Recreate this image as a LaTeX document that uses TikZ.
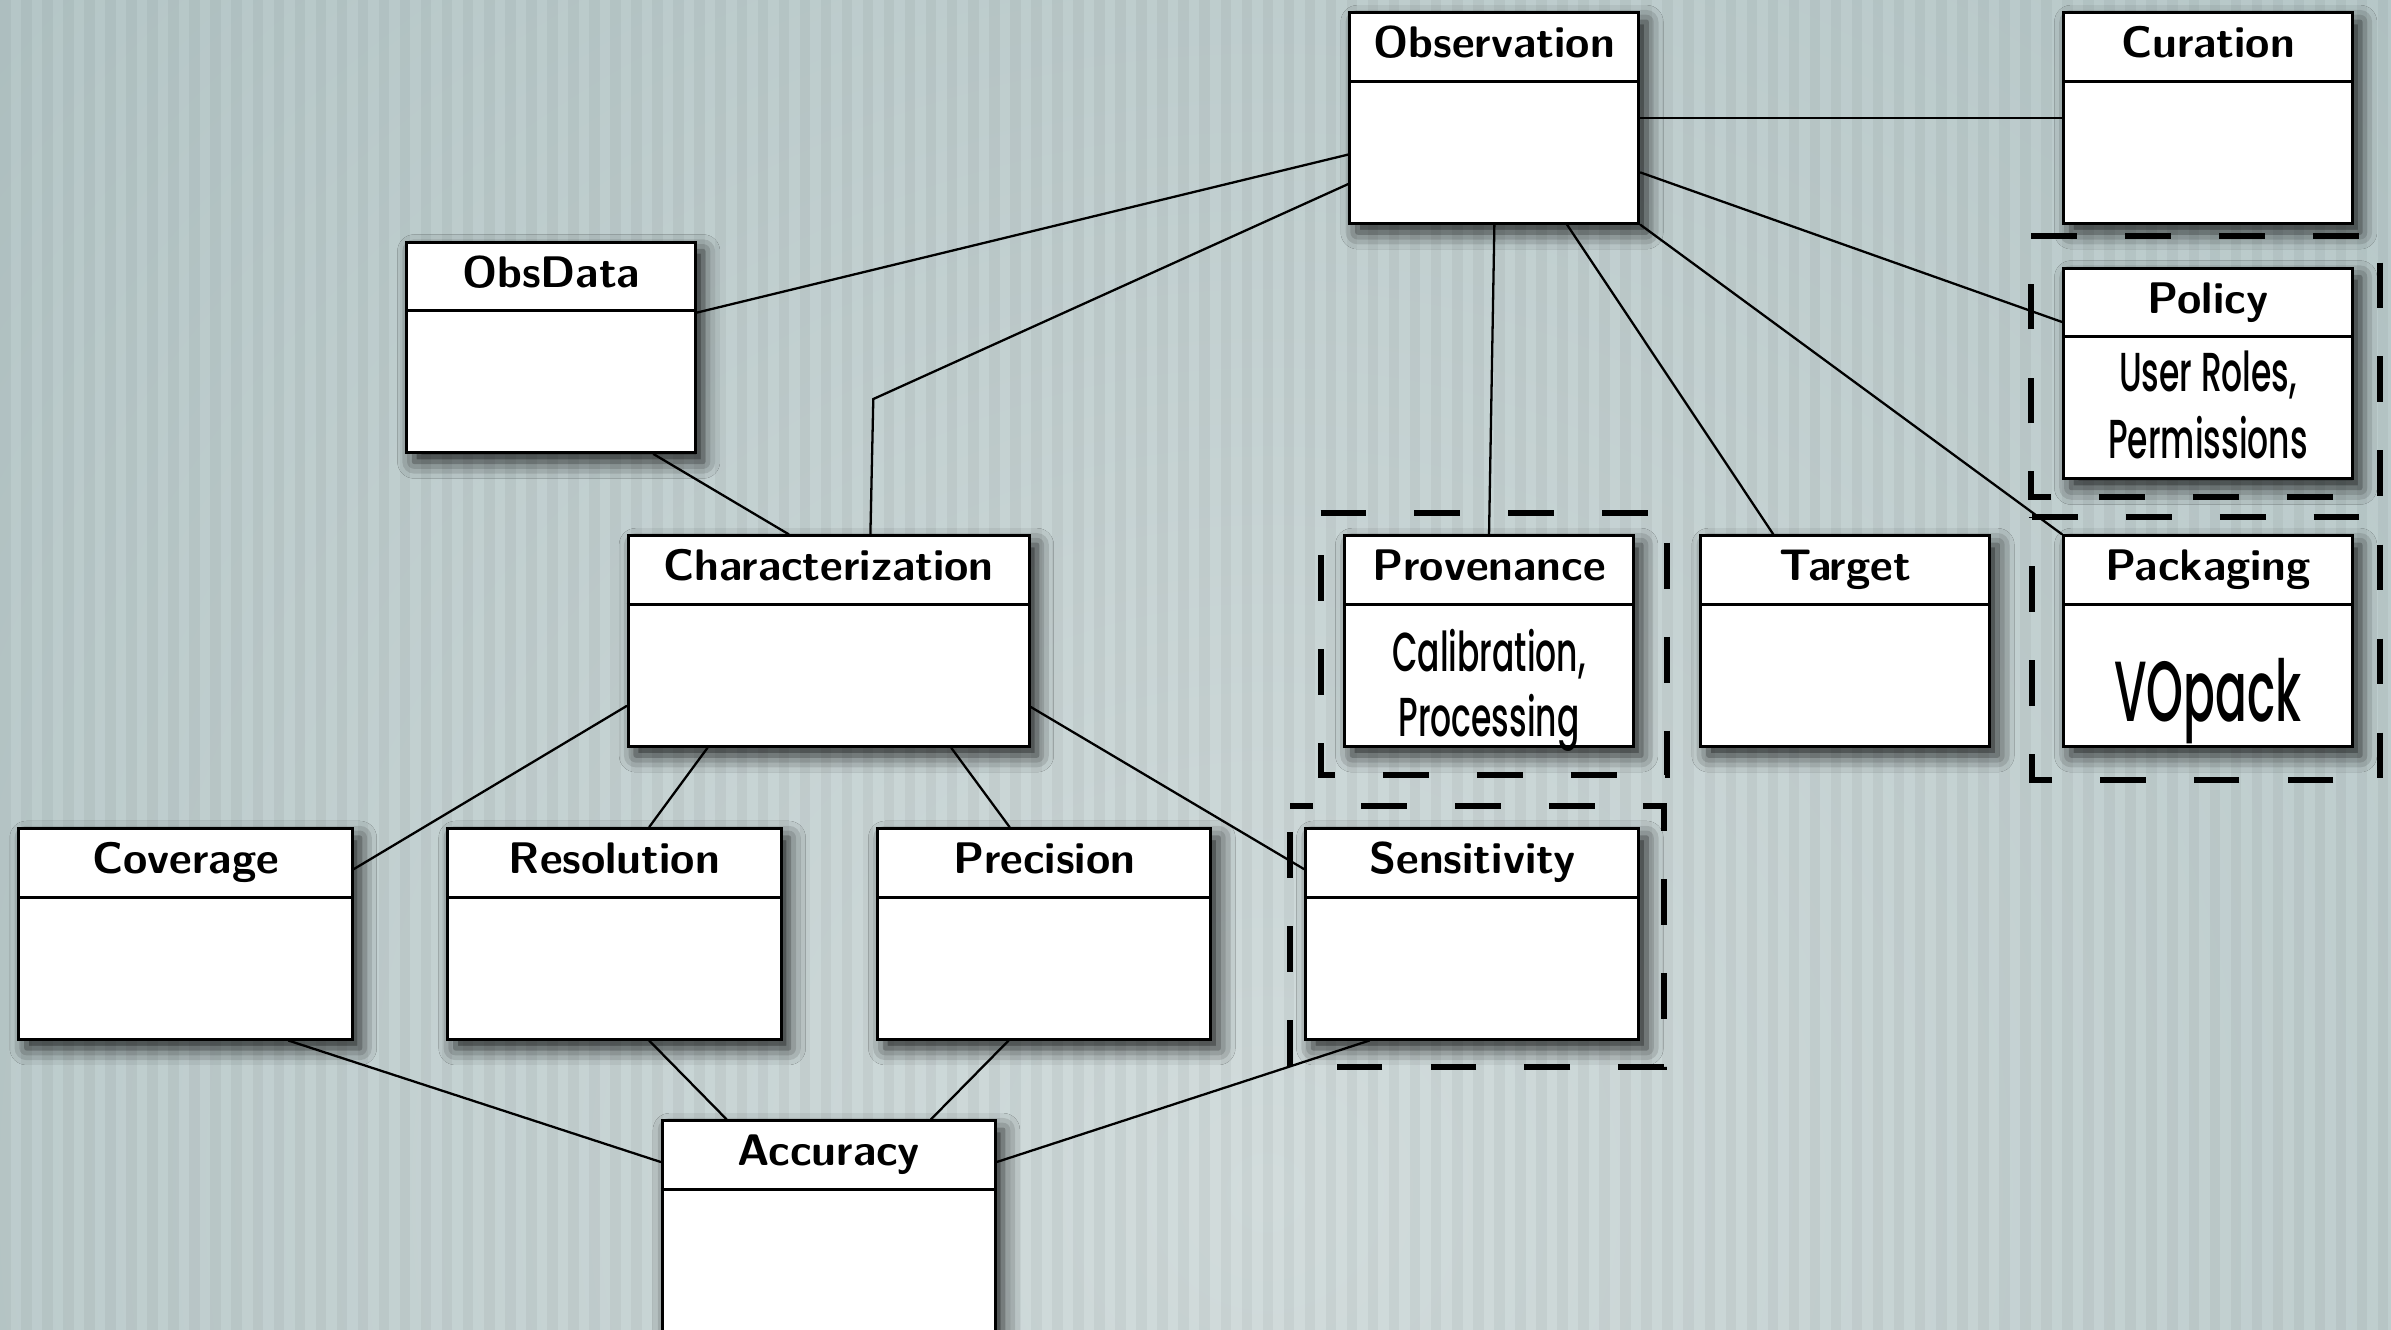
\documentclass[tikz,border=0pt]{standalone}
\usepackage{fontspec}
\usetikzlibrary{calc,shadows.blur}
\newfontfamily\condfont[FakeStretch=0.6, UprightFont=* Medium]{Poppins}
\newfontfamily\bigcondfont[FakeStretch=0.55, UprightFont=* Medium]{Poppins}
\definecolor{bgdark}{HTML}{A6BBBC}
\definecolor{bglight}{HTML}{D2DCDC}
\tikzset{
  umlbox/.style={draw=black, fill=white, line width=2pt, inner sep=0pt,
    minimum height=138pt,
    blur shadow={shadow xshift=5pt, shadow yshift=-6pt, shadow blur radius=11pt, shadow opacity=85}},
  umldiv/.style={line width=2pt},
  umltitle/.style={font=\fontsize{29}{34}\bfseries\sffamily\selectfont, inner sep=0pt, anchor=base},
  umlbody/.style={font=\fontsize{36}{44}\condfont\selectfont, inner sep=0pt, anchor=base},
  link/.style={line width=1.5pt, line cap=round},
  grp/.style={line width=4pt, dash pattern=on 30pt off 31.6pt},
}
% a class box: name, centre x, centre y, width, title
\newcommand\umlclass[5]{%
  \node[umlbox, minimum width=#4] (#1) at (#2,#3) {};
  \draw[umldiv] ($(#1.north west)+(0,-46)$) -- ($(#1.north east)+(0,-46)$);
  \node[umltitle] (#1-title) at ($(#1.north)+(0,-30.5)$) {#5};
}
% a dashed grouping frame, traced clockwise from its top left corner
\newcommand\grpframe[5][]{%
  \draw[grp,#1] (#2,#3) -- (#4,#3) -- (#4,#5) -- (#2,#5) -- cycle;
}
\begin{document}
\begin{tikzpicture}[x=1pt,y=1pt]
\clip (0,0) rectangle (1568,872);
% backdrop: soft vignette with fine vertical stripes
\fill[bgdark] (0,0) rectangle (1568,872);
\shade[inner color=bglight, outer color=bgdark] (830,90) circle (1700);
\foreach \i in {0,...,114} \fill[black, opacity=0.04] ({\i*13.8},0) rectangle ++(6.9,872);

% dashed groupings
\grpframe{1332}{717.2}{1561}{546}
\grpframe{866}{535.3}{1093}{364}
\grpframe{1332.5}{533}{1560.7}{360.5}
\grpframe[dash phase=15]{846}{343.5}{1091}{172}

% classes
\umlclass{obs}{980}{794.6}{189.5}{Observation}
\umlclass{cur}{1448}{794.6}{189.5}{Curation}
\umlclass{obsdata}{361.4}{644.2}{189.5}{ObsData}
\umlclass{policy}{1448}{627.1}{189.5}{Policy}
\umlclass{char}{543.5}{451.6}{263}{Characterization}
\umlclass{prov}{976.5}{451.6}{189.5}{Provenance}
\umlclass{target}{1210.2}{451.6}{189.5}{Target}
\umlclass{pack}{1448}{451.6}{189.5}{Packaging}
\umlclass{cov}{121.7}{259.6}{218.6}{Coverage}
\umlclass{res}{403}{259.6}{218.6}{Resolution}
\umlclass{prec}{684.8}{259.6}{218.6}{Precision}
\umlclass{sens}{965.5}{259.6}{218.6}{Sensitivity}
\umlclass{acc}{543.5}{68}{218.6}{Accuracy}

% compartment contents
\node[umlbody] (policy-l1) at ($(policy.south)+(0,58)$) {User Roles,};
\node[umlbody] (policy-l2) at ($(policy.south)+(0,14)$) {Permissions};
\node[umlbody] (prov-l1) at ($(prov.south)+(0,50)$) {Calibration,};
\node[umlbody] (prov-l2) at ($(prov.south)+(0,7.5)$) {Processing};
\node[umlbody, font=\fontsize{56}{60}\bigcondfont\selectfont] (pack-l1) at ($(pack.south)+(0,17.4)$) {VOpack};

% associations
\coordinate (bend) at (572.7,610.3);
\draw[link] ($(obsdata.north east)!0.337!(obsdata.south east)$) -- ($(obs.north west)!0.671!(obs.south west)$);
\draw[link] ($(char.north west)!0.603!(char.north east)$) -- (bend) -- ($(obs.north west)!0.809!(obs.south west)$);
\draw[link] ($(obsdata.south west)!0.851!(obsdata.south east)$) -- ($(char.north west)!0.401!(char.north east)$);
\draw[link] (obs.south) -- (prov.north);
\draw[link] ($(obs.south west)!0.749!(obs.south east)$) -- ($(target.north west)!0.253!(target.north east)$);
\draw[link] (obs.south east) -- (pack.north west);
\draw[link] ($(obs.north east)!0.755!(obs.south east)$) -- ($(policy.north west)!0.259!(policy.south west)$);
\draw[link] (obs.east) -- (cur.west);
\draw[link] ($(char.north west)!0.804!(char.south west)$) -- ($(cov.north east)!0.197!(cov.south east)$);
\draw[link] ($(char.south west)!0.2!(char.south east)$) -- ($(res.north west)!0.603!(res.north east)$);
\draw[link] ($(char.south west)!0.803!(char.south east)$) -- ($(prec.north west)!0.397!(prec.north east)$);
\draw[link] ($(char.north east)!0.809!(char.south east)$) -- ($(sens.north west)!0.197!(sens.south west)$);
\draw[link] ($(cov.south west)!0.806!(cov.south east)$) -- ($(acc.north west)!0.2!(acc.south west)$);
\draw[link] ($(res.south west)!0.603!(res.south east)$) -- ($(acc.north west)!0.196!(acc.north east)$);
\draw[link] ($(prec.south west)!0.394!(prec.south east)$) -- ($(acc.north west)!0.804!(acc.north east)$);
\draw[link] ($(sens.south west)!0.194!(sens.south east)$) -- ($(acc.north east)!0.2!(acc.south east)$);
\end{tikzpicture}
\end{document}
